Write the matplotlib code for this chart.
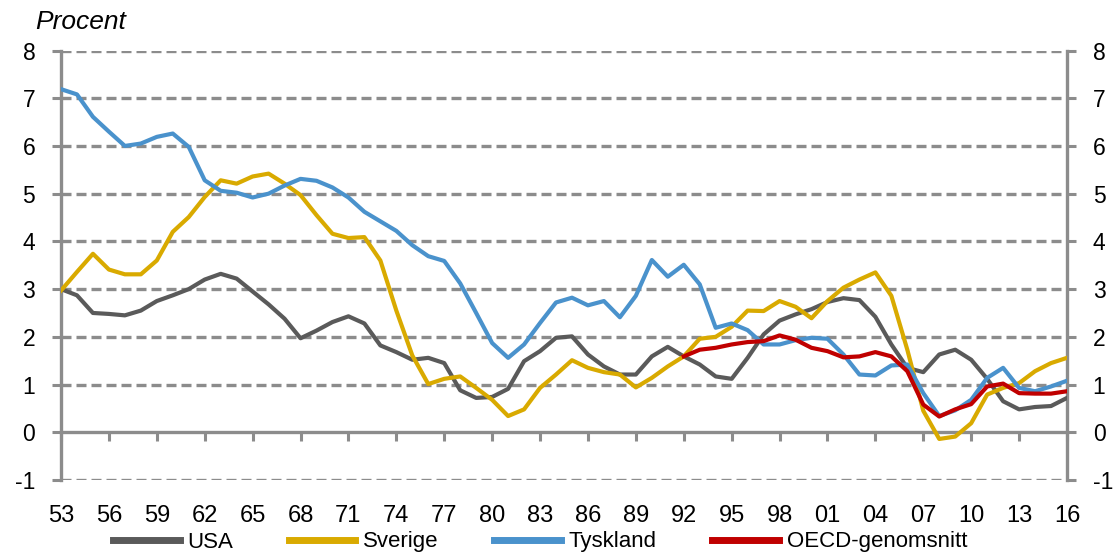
import matplotlib
matplotlib.use("Agg")
import matplotlib.pyplot as plt
from matplotlib.lines import Line2D

plt.rcParams['font.family'] = ['Liberation Sans', 'DejaVu Sans']

years = list(range(1953, 2017))
usa = [3.0, 2.87, 2.5, 2.48, 2.45, 2.55, 2.75, 2.87, 3.0, 3.2, 3.32, 3.22, 2.95,
       2.68, 2.38, 1.97, 2.13, 2.31, 2.43, 2.28, 1.82, 1.68, 1.52, 1.56, 1.45,
       0.88, 0.72, 0.74, 0.91, 1.49, 1.70, 1.98, 2.01, 1.63, 1.38, 1.21, 1.21,
       1.59, 1.79, 1.59, 1.42, 1.17, 1.12, 1.56, 2.05, 2.34, 2.47, 2.58, 2.73,
       2.81, 2.77, 2.42, 1.84, 1.35, 1.26, 1.63, 1.73, 1.52, 1.12, 0.65, 0.48,
       0.53, 0.55, 0.72]
sverige = [2.97, 3.36, 3.74, 3.41, 3.31, 3.31, 3.6, 4.2, 4.51, 4.93, 5.28, 5.21,
           5.36, 5.42, 5.21, 4.97, 4.55, 4.16, 4.07, 4.09, 3.6, 2.55, 1.61, 1.01,
           1.12, 1.17, 0.93, 0.68, 0.34, 0.48, 0.93, 1.21, 1.51, 1.35, 1.26, 1.21,
           0.94, 1.14, 1.38, 1.59, 1.96, 2.0, 2.21, 2.55, 2.54, 2.75, 2.63, 2.39,
           2.75, 3.03, 3.2, 3.35, 2.86, 1.73, 0.45, -0.14, -0.09, 0.19, 0.79, 0.93,
           1.03, 1.28, 1.45, 1.56]
tyskland = [7.19, 7.08, 6.61, 6.3, 6.0, 6.05, 6.19, 6.26, 5.98, 5.28, 5.06, 5.02,
            4.92, 5.0, 5.17, 5.31, 5.27, 5.13, 4.92, 4.62, 4.42, 4.22, 3.92, 3.69,
            3.59, 3.12, 2.5, 1.87, 1.56, 1.84, 2.29, 2.72, 2.82, 2.66, 2.75, 2.41,
            2.86, 3.61, 3.26, 3.51, 3.1, 2.19, 2.28, 2.14, 1.84, 1.84, 1.93, 1.98,
            1.96, 1.63, 1.21, 1.19, 1.4, 1.42, 0.82, 0.34, 0.46, 0.68, 1.14, 1.35,
            0.93, 0.86, 0.96, 1.08]
oecd_years = list(range(1992, 2017))
oecd = [1.59, 1.73, 1.77, 1.84, 1.89, 1.91, 2.03, 1.94, 1.77, 1.70, 1.57, 1.59,
        1.68, 1.59, 1.28, 0.58, 0.33, 0.48, 0.59, 0.96, 1.02, 0.82, 0.81, 0.81, 0.86]

xtick_years = list(range(1953, 2017, 3))
xtick_labels = [f"{y % 100:02d}" for y in xtick_years]
yticks = list(range(-1, 9))

c_usa = '#5a5a5a'
c_swe = '#d9aa00'
c_ger = '#4a92cc'
c_oecd = '#c00000'
c_axis = '#8c8c8c'

fig = plt.figure(figsize=(11.13, 5.55), dpi=100)
ax = fig.add_axes([61/1113, 1 - 480/555, (1067 - 61)/1113, (480 - 50.5)/555])

lw = 3.0
ax.plot(years, usa, color=c_usa, lw=lw, label='USA', zorder=3, solid_joinstyle='round')
ax.plot(years, sverige, color=c_swe, lw=lw, label='Sverige', zorder=3, solid_joinstyle='round')
ax.plot(years, tyskland, color=c_ger, lw=lw, label='Tyskland', zorder=3, solid_joinstyle='round')
ax.plot(oecd_years, oecd, color=c_oecd, lw=lw, label='OECD-genomsnitt', zorder=4, solid_joinstyle='round')

ax.set_xlim(1953, 2016)
ax.set_ylim(-1, 8)

for v in yticks:
    if v != 0:
        ax.axhline(v, color=c_axis, lw=2.4, ls=(0, (3, 1.5)), zorder=1)

ax.spines['top'].set_visible(False)
ax.spines['bottom'].set_position(('data', 0))
for s in ['left', 'right', 'bottom']:
    ax.spines[s].set_color(c_axis)
    ax.spines[s].set_linewidth(2.4)
    ax.spines[s].set_zorder(2)

ax.set_yticks(yticks)
ax.set_yticklabels([str(v) for v in yticks])
ax.tick_params(axis='y', left=True, right=True, labelleft=True, labelright=True,
               direction='out', length=6.5, width=2.2, color=c_axis,
               labelsize=16.5, pad=12)
ax.set_xticks(xtick_years)
ax.set_xticklabels(xtick_labels)
ax.tick_params(axis='x', direction='out', length=6.5, width=2.2, color=c_axis,
               labelsize=17, pad=46)

fig.text(35/1113, 1 - 29/555, 'Procent', fontsize=19, style='italic', ha='left', va='baseline')

handles = [Line2D([], [], color=c, lw=5) for c in (c_usa, c_swe, c_ger, c_oecd)]
fig.legend(handles, ['USA', 'Sverige', 'Tyskland', 'OECD-genomsnitt'],
           loc='center', bbox_to_anchor=(540/1113, 1 - 542/555), ncol=4,
           frameon=False, fontsize=16, handlelength=3.0, handletextpad=0.35,
           columnspacing=2.5, borderaxespad=0, borderpad=0)

fig.savefig('out.png', dpi=100)
